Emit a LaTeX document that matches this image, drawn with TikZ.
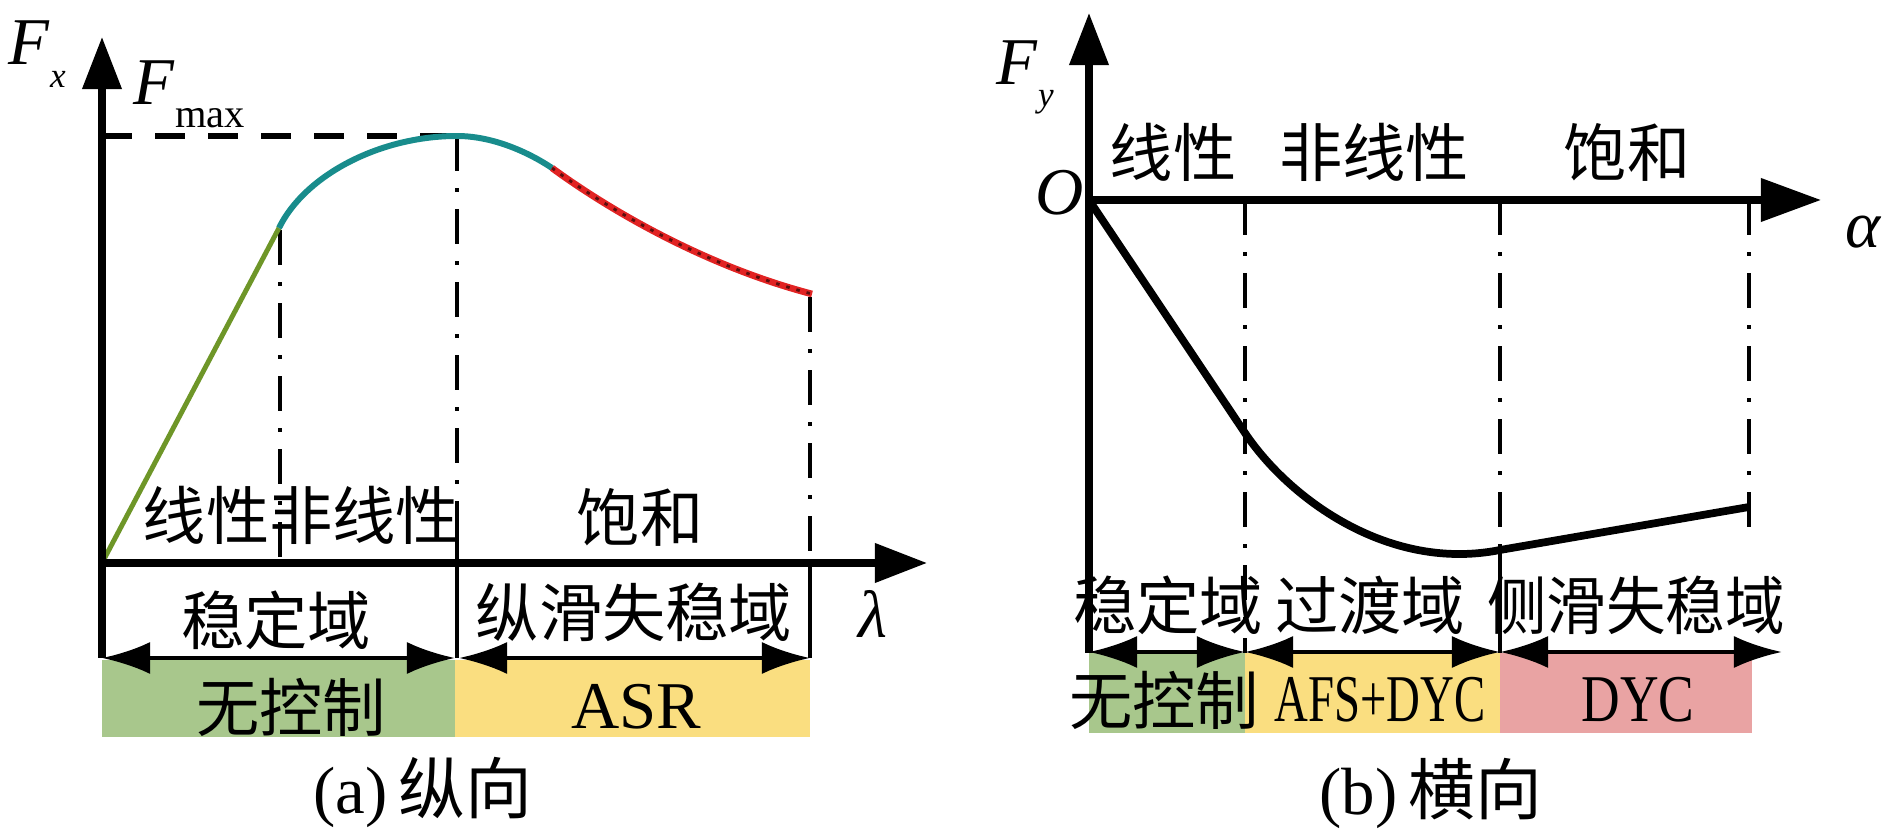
\documentclass[tikz,border=0pt]{standalone}
\usepackage{fontspec}
\setmainfont{Liberation Serif}
\newfontfamily\cjk{Noto Sans CJK SC}
\usetikzlibrary{
  arrows.meta,
  positioning,
  calc
}

\definecolor{boxgreen}{RGB}{168,199,140}
\definecolor{boxyellow}{RGB}{250,222,128}
\definecolor{boxpink}{RGB}{233,163,163}
\definecolor{curveteal}{RGB}{24,140,140}
\definecolor{curvered}{RGB}{225,35,35}
\definecolor{curvegreen}{RGB}{110,150,40}

\tikzset{
  axis/.style = {line width=2pt, -{Triangle[length=0.52cm,width=0.38cm]}},
  guide/.style = {line width=1.3pt, dash pattern=on 0.35cm off 0.17cm on 0.04cm off 0.17cm},
  span/.style = {line width=1.2pt, {Latex[length=0.48cm,width=0.32cm]}-{Latex[length=0.48cm,width=0.32cm]}},
  zh/.style = {font=\cjk\fontsize{18}{18}\selectfont, inner sep=0pt},
  lat/.style = {font=\fontsize{19}{19}\selectfont, inner sep=0pt}
}

\begin{document}
\begin{tikzpicture}[x=0.01cm, y=-0.01cm]
    \useasboundingbox (0,0) rectangle (1890,834);

    % (a) longitudinal
    \coordinate (oa) at (102,563);
    \coordinate (knee) at (279,228);
    \coordinate (peak) at (457,136);
    \coordinate (turn) at (552,168);
    \coordinate (enda) at (812,294);

    \fill[boxgreen] (102,660) rectangle (455,737);
    \fill[boxyellow] (455,660) rectangle (810,737);

    \draw[guide] (280,230) -- (280,563);
    \draw[guide] (peak) -- (457,530);
    \draw[line width=1.3pt] (457,530) -- (457,658);
    \draw[guide] (810,297) -- (810,563);
    \draw[line width=1.3pt] (810,563) -- (810,658);
    \draw[line width=1.5pt, dash pattern=on 0.3cm off 0.23cm] (102,136) -- (peak);

    \draw[curvegreen, line width=1.4pt] (oa) -- (knee);
    \draw[curveteal, line width=1.7pt] (knee) .. controls (305,175) and (380,136) .. (peak)
      .. controls (490,136) and (525,150) .. (turn);
    \draw[curvered, line width=1.9pt] (turn) .. controls (590,196) and (690,262) .. (enda);
    \draw[black!60!curvered, line width=0.8pt, dash pattern=on 1pt off 2pt]
      (turn) .. controls (590,196) and (690,262) .. (enda);

    \draw[axis] (102,658) -- (102,37);
    \draw[axis] (oa) -- (927,563);

    \draw[span] (102,658) -- (455,658);
    \draw[span] (459,658) -- (810,658);

    \node[lat, anchor=base west] (fx) at (8,65) {\textit{F}\raisebox{-6.5pt}{\fontsize{10}{10}\selectfont\textit{x}}};
    \node[lat, anchor=base west] (fmax) at (133,105) {\textit{F}\raisebox{-6.5pt}{\fontsize{11.5}{11.5}\selectfont max}};
    \node[lat, anchor=base west] (lam) at (858,638) {\textit{λ}};

    \node[zh] (lina) at (301,515) {线性非线性};
    \node[zh] (sata) at (640,517) {饱和};
    \node[zh] (stba) at (276,620) {稳定域};
    \node[zh] (slpa) at (634,612) {纵滑失稳域};
    \node[zh] (nca) at (291,707) {无控制};
    \node[lat] (asr) at (636,707) {ASR};
    \node[lat] (capa) at (423,792) {(a)\,{\cjk 纵向}};

    % (b) lateral
    \coordinate (ob) at (1089,200);
    \coordinate (lin) at (1245,433);
    \coordinate (low) at (1500,550);
    \coordinate (endb) at (1749,507);

    \fill[boxgreen] (1089,653) rectangle (1245,733);
    \fill[boxyellow] (1245,653) rectangle (1500,733);
    \fill[boxpink] (1500,653) rectangle (1752,733);

    \draw[guide] (1245,200) -- (1245,653);
    \draw[guide] (1500,200) -- (low);
    \draw[line width=1.3pt] (low) -- (1500,653);
    \draw[guide] (1749,200) -- (1749,533);

    \draw[line width=2.2pt] (ob) -- (lin) .. controls (1290,500) and (1390,572) .. (low) -- (endb);

    \draw[axis] (1089,653) -- (1089,13);
    \draw[axis, -{Triangle[length=0.6cm,width=0.42cm]}] (ob) -- (1821,200);

    \draw[span] (1089,652) -- (1245,652);
    \draw[span] (1245,652) -- (1500,652);
    \draw[span] (1500,652) -- (1782,652);

    \node[lat, anchor=base west] (fy) at (996,85) {\textit{F}\raisebox{-6pt}{\fontsize{10}{10}\selectfont\textit{y}}};
    \node[lat, anchor=base west] (orig) at (1035,215) {\textit{O}};
    \node[lat, anchor=base west] (alp) at (1845,248) {\textit{α}};

    \node[zh] (linb) at (1173,152) {线性};
    \node[zh] (nlb) at (1374,152) {非线性};
    \node[zh] (satb) at (1627,152) {饱和};
    \node[zh] (stbb) at (1168,605) {稳定域};
    \node[zh] (trb) at (1370,605) {过渡域};
    \node[zh] (slpb) at (1636,605) {\scalebox{0.94}[1]{侧滑失稳域}};
    \node[zh] (ncb) at (1164,700) {无控制};
    \node[lat] (afs) at (1380,700) {\scalebox{0.7}[1]{AFS+DYC}};
    \node[lat] (dyc) at (1638,700) {\scalebox{0.8}[1]{DYC}};
    \node[lat] (capb) at (1431,793) {(b)\,{\cjk 横向}};
\end{tikzpicture}
\end{document}
